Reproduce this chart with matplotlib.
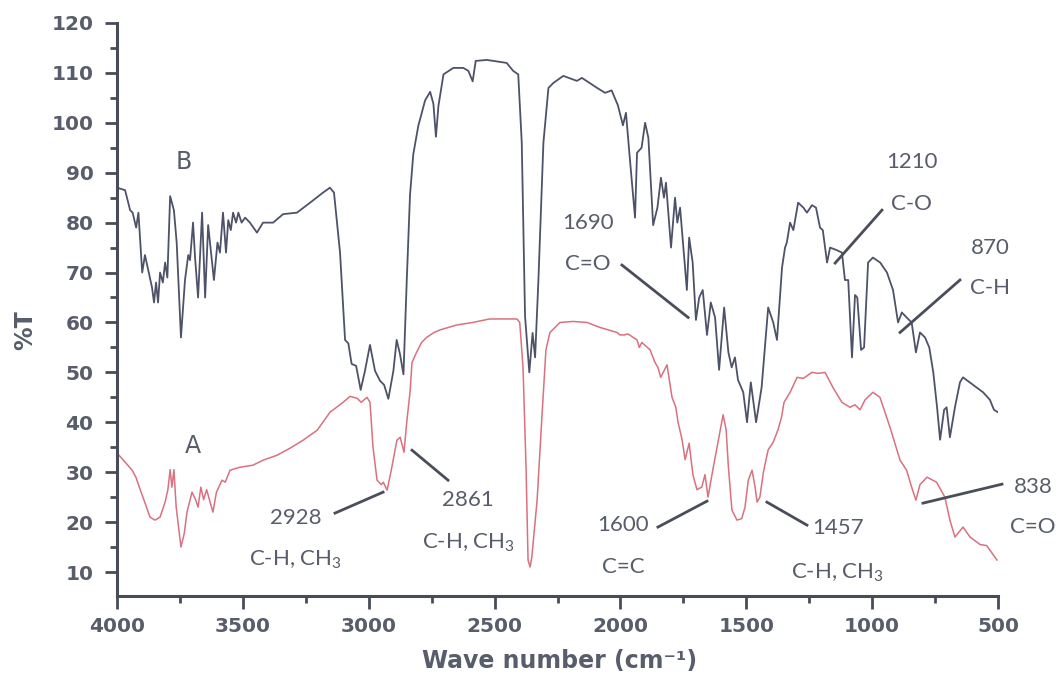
import matplotlib.pyplot as plt
from matplotlib.ticker import MultipleLocator

plt.rcParams['mathtext.fontset'] = 'custom'
plt.rcParams['mathtext.rm'] = 'Lato'
plt.rcParams['mathtext.it'] = 'Lato'

# spectrum B (upper, dark)
wn_b = [4000, 3968, 3948, 3938, 3924, 3915, 3900, 3889, 3876, 3861, 3853, 3845, 3837, 3829,
        3818, 3809, 3800, 3789, 3774, 3763, 3746, 3730, 3717, 3710, 3698, 3690, 3678, 3662,
        3650, 3638, 3615, 3601, 3591, 3579, 3567, 3558, 3548, 3539, 3527, 3518, 3505, 3491,
        3472, 3444, 3420, 3380, 3340, 3285, 3233, 3182, 3154, 3138, 3114, 3094, 3081, 3068,
        3050, 3032, 3015, 2995, 2975, 2955, 2939, 2922, 2902, 2889, 2876, 2862, 2849, 2836,
        2823, 2803, 2776, 2756, 2743, 2733, 2723, 2703, 2664, 2624, 2604, 2587, 2575, 2531,
        2491, 2452, 2426, 2406, 2392, 2379, 2362, 2349, 2339, 2326, 2306, 2286, 2266, 2227,
        2173, 2153, 2093, 2061, 2035, 2010, 1990, 1978, 1962, 1942, 1934, 1916, 1902, 1889,
        1870, 1853, 1839, 1827, 1819, 1799, 1783, 1774, 1763, 1736, 1727, 1713, 1700, 1687,
        1673, 1656, 1641, 1624, 1608, 1588, 1571, 1558, 1545, 1533, 1512, 1497, 1482, 1461,
        1439, 1413, 1393, 1378, 1358, 1346, 1339, 1326, 1313, 1294, 1273, 1259, 1239, 1223,
        1207, 1196, 1179, 1167, 1141, 1120, 1108, 1095, 1080, 1068, 1059, 1044, 1032, 1016,
        997, 968, 941, 917, 897, 882, 863, 843, 826, 810, 790, 773, 757, 742, 730, 714, 704,
        691, 671, 651, 639, 599, 559, 532, 516, 500]
t_b = [87, 86.5, 82.5, 82, 79, 82, 70, 73.5, 70.5, 67, 64, 68, 64, 70,
       68, 72, 69, 85.3, 82.5, 76, 57, 68.5, 73.5, 72.5, 80, 73, 65, 82,
       65, 79.5, 68.5, 76, 74, 82, 74, 80.5, 78.5, 82, 80, 82, 80, 81,
       80, 78, 80, 80, 81.7, 82, 84, 86, 87, 86, 74, 56.5, 55.8, 51.7,
       51.3, 46.5, 50.3, 55.5, 50.3, 48.3, 47.5, 44.7, 50.3, 56.5, 53.7, 49.6, 68.3, 85.5,
       93.7, 99.4, 104.5, 106.2, 103.8, 97.2, 103.4, 109.7, 111, 111, 110.4, 108.3, 112.4, 112.6,
       112.3, 112, 110.4, 109.7, 96, 61.3, 50, 57.9, 53, 68.3, 96, 107, 108, 109.4,
       108.4, 109, 107, 106, 106.5, 103.5, 99.5, 102, 92.5, 81, 94, 95, 100, 97,
       79.5, 83, 89, 85, 88, 75, 85, 80, 83, 66.5, 77, 72, 60.5, 65,
       66.5, 57.5, 64, 61, 50.5, 63, 54, 51, 53, 48.5, 46, 40, 48, 40,
       47, 63, 60, 56.5, 71, 75, 76, 80, 78.5, 84, 83, 82, 83.5, 83,
       79, 78.5, 72, 75, 74.5, 74, 68.5, 68.5, 53, 65.5, 65, 54.5, 55, 72,
       73, 72, 70, 66.5, 60, 62, 61, 60, 54, 58, 57, 55, 50, 43, 36.5, 42.5, 43,
       37, 43, 48, 49, 47.5, 46, 44.5, 42.5, 42]

# spectrum A (lower, red)
wn_a = [4000, 3985, 3940, 3925, 3908, 3890, 3869, 3849, 3829, 3809, 3798, 3789, 3782, 3774,
        3765, 3746, 3733, 3722, 3702, 3688, 3678, 3667, 3656, 3644, 3619, 3605, 3583, 3570,
        3551, 3511, 3460, 3420, 3364, 3313, 3261, 3205, 3154, 3102, 3074, 3046, 3030, 3007,
        2995, 2983, 2967, 2950, 2942, 2927, 2912, 2888, 2875, 2860, 2848, 2836, 2828, 2810,
        2790, 2770, 2740, 2717, 2650, 2586, 2520, 2411, 2400, 2387, 2375, 2367, 2359, 2352,
        2331, 2312, 2296, 2280, 2240, 2187, 2133, 2081, 2014, 2002, 1985, 1970, 1934, 1925,
        1915, 1882, 1863, 1851, 1840, 1815, 1795, 1780, 1771, 1755, 1743, 1727, 1712, 1696,
        1677, 1664, 1652, 1631, 1611, 1592, 1580, 1571, 1557, 1537, 1518, 1505, 1492, 1477,
        1465, 1457, 1446, 1432, 1413, 1393, 1374, 1360, 1350, 1326, 1298, 1273, 1239, 1214,
        1187, 1156, 1120, 1088, 1068, 1048, 1028, 997, 969, 929, 889, 863, 843, 826, 810,
        782, 744, 711, 691, 671, 639, 611, 571, 545, 518, 504]
t_a = [33.8, 33, 30.4, 29, 26.5, 24, 21, 20.4, 21, 24, 26.5, 30.5, 27, 30.5,
       23, 15, 17.7, 22, 26, 24.5, 23, 27, 24.5, 26.5, 22, 26, 28.4, 28,
       30.4, 31, 31.4, 32.4, 33.4, 34.8, 36.4, 38.4, 42, 44, 45.2, 44.8, 44, 45,
       44, 35, 28.4, 27.5, 28, 26.4, 30, 36.4, 37, 34, 40.5, 46, 52, 54,
       56, 57, 58, 58.5, 59.5, 60, 60.7, 60.7, 60, 51, 31, 12.4, 11, 13,
       24.4, 41, 54.5, 58, 60, 60.2, 60, 59, 58, 57.5, 57.5, 57.7, 56.5, 55,
       56, 54.5, 52, 51, 49, 51.5, 45, 43, 40, 36.5, 32.5, 35.8, 29.5, 26.5,
       27, 29.5, 25, 31, 36.4, 41.5, 38.5, 31, 22.4, 20.4, 20.7, 23, 28.4, 30.4,
       27, 24, 25, 30, 34.5, 36, 38.5, 41, 44, 46, 49, 48.8, 50, 49.8,
       50, 47, 44, 43, 43.5, 42.5, 44.5, 46, 45, 39, 32.4, 30.4, 27, 24.4, 27.5,
       29, 28, 25, 20.4, 17, 19, 17, 15.5, 15.3, 13.4, 12.4]

# peak labels: (number, group, text x, number y, group y, line start, line end)
peaks = [
    ("2928", "C-H, CH$_3$", 3289, 20.8, 12.4, (3134, 21.8), (2943, 26.0)),
    ("2861", "C-H, CH$_3$", 2605, 24.4, 15.8, (2828, 34.4), (2685, 28.4)),
    ("1600", "C=C", 1990, 19.4, 11.0, (1851, 19.0), (1656, 24.2)),
    ("1457", "C-H, CH$_3$", 1136, 18.8, 9.8, (1418, 24.0), (1259, 19.4)),
    ("838", "C=O", 361, 27.0, 19.0, (798, 23.8), (484, 27.6)),
    ("1690", "C=O", 2129, 79.9, 71.7, (1994, 71.5), (1731, 61.0)),
    ("1210", "C-O", 842, 92.2, 83.7, (961, 82.5), (1147, 71.9)),
    ("870", "C-H", 532, 75.0, 67.0, (651, 68.5), (889, 58.0)),
]

gray_txt = '#585d6b'
axis_col = '#474c58'

fig = plt.figure(figsize=(10.61, 6.84), dpi=100)
ax = fig.add_axes([0.1103, 0.1287, 0.8303, 0.8377])

ax.plot(wn_b, t_b, color='#4d5269', lw=1.3)
ax.plot(wn_a, t_a, color='#d9717f', lw=1.1)

ax.set_xlim(4000, 500)
ax.set_ylim(5.2, 120)
ax.xaxis.set_major_locator(MultipleLocator(500))
ax.xaxis.set_minor_locator(MultipleLocator(250))
ax.yaxis.set_major_locator(MultipleLocator(10))
ax.yaxis.set_minor_locator(MultipleLocator(5))
ax.set_yticks(range(10, 121, 10))

for side in ['top', 'right']:
    ax.spines[side].set_visible(False)
for side in ['left', 'bottom']:
    ax.spines[side].set_linewidth(2.2)
    ax.spines[side].set_color(axis_col)

ax.tick_params(which='major', direction='out', length=9, width=2, color=axis_col,
               labelsize=14.5, labelcolor=gray_txt)
ax.tick_params(which='minor', direction='out', length=5, width=2, color=axis_col)
ax.tick_params(axis='y', which='major', pad=8)
ax.tick_params(axis='x', which='major', pad=6)
for lab in ax.get_xticklabels() + ax.get_yticklabels():
    lab.set_fontweight('bold')

ax.set_xlabel('Wave number (cm⁻¹)', fontsize=17, fontweight='bold', color=gray_txt)
ax.xaxis.set_label_coords(0.502, -0.092)
ax.set_ylabel('%T', fontsize=17, fontweight='bold', color=gray_txt)
ax.yaxis.set_label_coords(-0.091, 0.464)

ax.text(3734, 92.2, 'B', fontsize=17, color=gray_txt, ha='center', va='center')
ax.text(3698, 35.2, 'A', fontsize=17, color=gray_txt, ha='center', va='center')

ann_font = ['Lato', 'DejaVu Sans']
for num, grp, tx, ny, gy, p0, p1 in peaks:
    ax.text(tx, ny, num, family=ann_font, fontsize=16, color=gray_txt,
            ha='center', va='center')
    ax.text(tx, gy, grp, family=ann_font, fontsize=16, color=gray_txt,
            ha='center', va='center')
    ax.plot([p0[0], p1[0]], [p0[1], p1[1]], color='#4a4e5a', lw=2, clip_on=False)

fig.savefig('out.png', dpi=100)
